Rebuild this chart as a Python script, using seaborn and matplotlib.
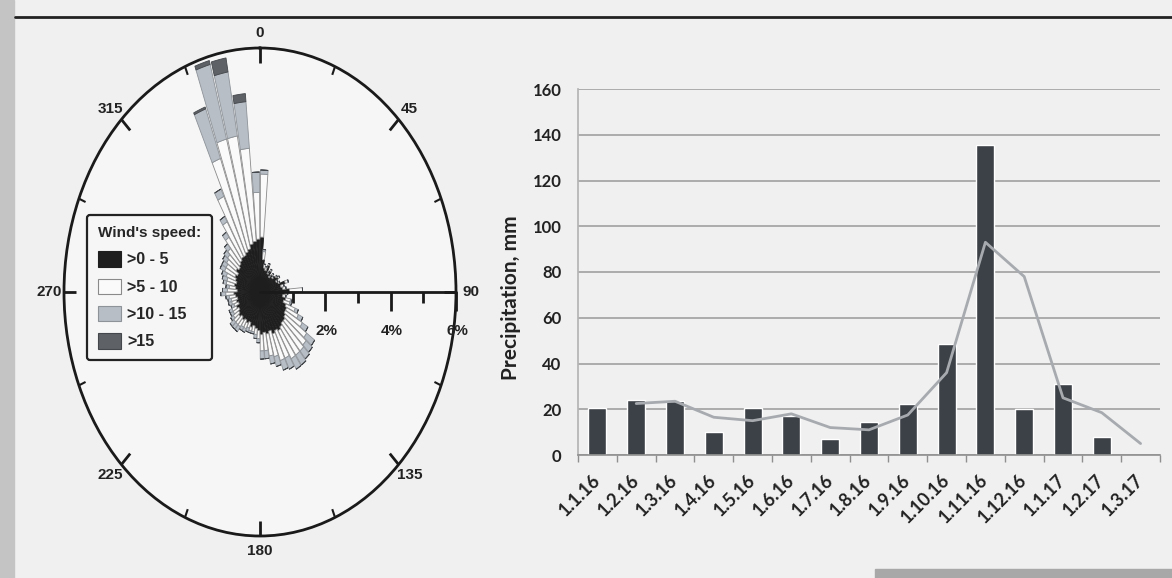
import numpy as np
import pandas as pd
import matplotlib
matplotlib.use('Agg')
import matplotlib.pyplot as plt
import seaborn as sns
from matplotlib.patches import Patch, Rectangle
from matplotlib.lines import Line2D

# ---------------- wind rose data (72 sectors of 5 deg, % of time) ----------------
sector_deg = list(np.arange(2.5, 360, 5))
speed_0_5 = [1.35, 0.8, 0.6, 0.55, 0.7, 0.5, 0.6, 0.45, 0.55, 0.5, 0.6, 0.65,
             0.55, 0.6, 0.8, 0.65, 0.7, 0.9, 0.75, 0.7, 0.8, 0.75, 0.85, 0.9,
             0.9, 0.95, 1.0, 1.0, 1.05, 1.1, 1.05, 1.1, 1.0, 1.05, 1.0, 1.05,
             0.95, 0.9, 0.85, 0.9, 0.8, 0.85, 0.8, 0.85, 0.8, 0.85, 0.8, 0.75,
             0.8, 0.7, 0.75, 0.7, 0.75, 0.8, 0.7, 0.75, 0.8, 0.75, 0.8, 0.85,
             0.8, 0.9, 0.85, 0.9, 0.95, 1.0, 1.0, 1.05, 1.1, 1.2, 1.25, 1.3]
speed_5_10 = [1.55, 0.2, 0.1, 0.1, 0.05, 0.05, 0.05, 0.05, 0.05, 0.05, 0.05, 0.05,
              0.05, 0.05, 0.1, 0.1, 0.1, 0.4, 0.1, 0.1, 0.15, 0.2, 0.3, 0.4,
              0.6, 0.8, 0.85, 0.9, 0.85, 0.8, 0.75, 0.7, 0.65, 0.55, 0.45, 0.4,
              0.2, 0.15, 0.15, 0.1, 0.15, 0.15, 0.2, 0.2, 0.25, 0.2, 0.2, 0.2,
              0.15, 0.15, 0.15, 0.2, 0.2, 0.25, 0.3, 0.2, 0.25, 0.3, 0.3, 0.35,
              0.4, 0.35, 0.45, 0.5, 0.7, 1.0, 1.6, 2.45, 2.8, 2.7, 2.3, 1.15]
speed_10_15 = [0.1, 0.05, 0.0, 0.0, 0.0, 0.0, 0.0, 0.0, 0.0, 0.0, 0.0, 0.0,
               0.0, 0.0, 0.0, 0.0, 0.0, 0.0, 0.0, 0.0, 0.05, 0.05, 0.1, 0.15,
               0.2, 0.3, 0.25, 0.25, 0.3, 0.3, 0.3, 0.25, 0.25, 0.2, 0.2, 0.2,
               0.1, 0.1, 0.05, 0.05, 0.1, 0.1, 0.1, 0.15, 0.15, 0.15, 0.1, 0.1,
               0.1, 0.1, 0.1, 0.1, 0.1, 0.15, 0.15, 0.1, 0.1, 0.15, 0.15, 0.15,
               0.15, 0.15, 0.15, 0.15, 0.15, 0.15, 0.2, 1.3, 1.9, 1.6, 1.15, 0.5]
speed_15 = [0.0] * 67 + [0.05, 0.1, 0.35, 0.2, 0.0]

speed_labels = [">0 - 5", ">5 - 10", ">10 - 15", ">15"]
rose_labels = ["0", "45", "90", "135", "180", "225", "270", "315"]

# ---------------- precipitation data ----------------
months = ["1.1.16", "1.2.16", "1.3.16", "1.4.16", "1.5.16", "1.6.16", "1.7.16",
          "1.8.16", "1.9.16", "1.10.16", "1.11.16", "1.12.16", "1.1.17", "1.2.17", "1.3.17"]
bar_months = months[:14]
precip = [20.5, 24, 23.5, 10, 20.5, 17, 7, 14.5, 22.5, 48.5, 135.5, 20, 31, 8]
line_months = months[1:]
precip_trend = [22.5, 23.5, 16.5, 15, 18, 12, 11, 17.5, 36, 93, 78, 25, 18.5, 5]

# ---------------- figure ----------------
sns.set_theme(style='white')
plt.rcParams['font.family'] = ['Liberation Sans', 'DejaVu Sans']

W, H = 1172, 578
fig = plt.figure(figsize=(W / 100, H / 100), dpi=100)
fig.patch.set_facecolor('#f0f0f0')

# photo edges and top rule
fig.add_artist(Rectangle((0, 0), 14 / W, 1, transform=fig.transFigure,
                         color='#c4c4c4', zorder=0))
fig.add_artist(Rectangle((875 / W, 0), 1, 9 / H, transform=fig.transFigure,
                         color='#a8a8a8', zorder=0))
fig.add_artist(Line2D([15 / W, 1], [1 - 17 / H] * 2, transform=fig.transFigure,
                      color='#222222', lw=2))

# ---- wind rose ----
cx, cy, rx, ry = 260, 292, 196, 244
ax = fig.add_axes([(cx - rx) / W, 1 - (cy + ry) / H, 2 * rx / W, 2 * ry / H],
                  projection='polar')
ax.set_aspect('auto')
ax.set_theta_zero_location('N')
ax.set_theta_direction(-1)
ax.set_facecolor('#f6f6f6')

cls_colors = ['#1e1e1e', '#fafafa', '#b8bec5', '#5e6267']
cls_edges = ['#1e1e1e', '#8a8a8a', '#8d9399', '#44484c']
theta = np.deg2rad(sector_deg)
width = np.deg2rad(5) * 0.9
bottom = np.zeros(len(sector_deg))
for vals, c, e in zip([speed_0_5, speed_5_10, speed_10_15, speed_15], cls_colors, cls_edges):
    v = np.array(vals)
    ax.bar(theta, v, width=width, bottom=bottom, color=c, edgecolor=e, linewidth=0.6)
    bottom = bottom + v

rmax = 6
ax.set_ylim(0, rmax)
ax.set_yticks([])
ax.set_xticks(np.deg2rad(np.arange(0, 360, 45)))
ax.set_xticklabels(rose_labels, fontsize=11, fontweight='bold', color='#222222')
ax.tick_params(axis='x', which='both', length=0, pad=4)
ax.grid(False)
ax.spines['polar'].set_linewidth(2)
ax.spines['polar'].set_color('#1a1a1a')

# inward direction ticks on the outer ring
for deg in np.arange(0, 360, 22.5):
    major = (deg % 45 == 0)
    t = np.deg2rad(deg)
    ax.plot([t, t], [rmax - (0.38 if major else 0.22), rmax], color='#1a1a1a',
            lw=2 if major else 1.5, solid_capstyle='butt', clip_on=False)

# radial scale along 90 deg
ax.plot([np.pi / 2, np.pi / 2], [0, rmax], color='#1a1a1a', lw=2, clip_on=False)
ax.plot([np.pi / 2] * 3, [2, 4, 6], ls='none', marker=3, ms=14, mew=2,
        color='#1a1a1a', clip_on=False)
ax.plot([np.pi / 2] * 3, [1, 3, 5], ls='none', marker=3, ms=8, mew=2,
        color='#1a1a1a', clip_on=False)
for r in [2, 4, 6]:
    ax.annotate(f"{r}%", (np.pi / 2, r), xytext=(1, -28), textcoords='offset points',
                ha='center', va='center', fontsize=11, fontweight='bold', color='#222222')

handles = [Patch(facecolor=c, edgecolor=e, linewidth=0.8) for c, e in zip(cls_colors, cls_edges)]
leg = ax.legend(handles, speed_labels, title="Wind's speed:", loc='upper left',
                bbox_to_anchor=(87 / W, 1 - 215 / H), bbox_transform=fig.transFigure,
                borderaxespad=0, frameon=True, fancybox=True, edgecolor='#222222',
                facecolor='#f6f6f6', framealpha=1, prop={'weight': 'bold', 'size': 11.5},
                title_fontproperties={'weight': 'bold', 'size': 11},
                handlelength=1.45, handleheight=1.1, handletextpad=0.35,
                labelspacing=0.7, borderpad=0.7, alignment='left')
leg.get_frame().set_linewidth(1.6)

# ---- precipitation chart ----
lato = ['Lato', 'DejaVu Sans']
ax2 = fig.add_axes([578 / W, 1 - 455 / H, 582 / W, 366 / H])
ax2.set_facecolor('none')
bar_df = pd.DataFrame({'month': bar_months, 'precip': precip})
sns.barplot(data=bar_df, x='month', y='precip', order=months, color='#3c4147',
            saturation=1, width=0.46, ax=ax2)
line_pos = [months.index(m) for m in line_months]
sns.lineplot(x=line_pos, y=precip_trend, ax=ax2, color='#a7abb0', lw=2)

ax2.set_xlim(-0.5, 14.5)
ax2.set_ylim(0, 160)
ax2.set_yticks(range(0, 161, 20))
ax2.set_yticklabels([str(v) for v in range(0, 161, 20)], fontsize=12,
                    fontweight='bold', family=lato, color='#222222')
ax2.yaxis.grid(True, color='#a0a0a0', lw=1.2)
ax2.set_axisbelow(True)
for s in ['top', 'right']:
    ax2.spines[s].set_visible(False)
ax2.spines['left'].set_color('#b5b5b5')
ax2.spines['bottom'].set_color('#8f8f8f')
ax2.spines['bottom'].set_linewidth(1.2)
ax2.set_xticks(range(len(months)))
ax2.set_xticklabels(months, rotation=45, ha='right', va='center', rotation_mode='anchor',
                    fontsize=13, fontweight='bold', family=lato, color='#222222')
ax2.tick_params(axis='x', which='major', length=0, pad=16)
ax2.set_xticks(np.arange(-0.5, 15, 1), minor=True)
ax2.tick_params(axis='x', which='minor', length=5, color='#8f8f8f', bottom=True)
ax2.tick_params(axis='y', length=0, pad=12)
ax2.set_xlabel('')
ax2.set_ylabel('Precipitation, mm', fontsize=15, fontweight='bold', family=lato,
               color='#222222')
ax2.yaxis.set_label_coords((521 - 578) / 582, (455 - 298) / 366)

fig.savefig('out.png', dpi=100, facecolor=fig.get_facecolor())
